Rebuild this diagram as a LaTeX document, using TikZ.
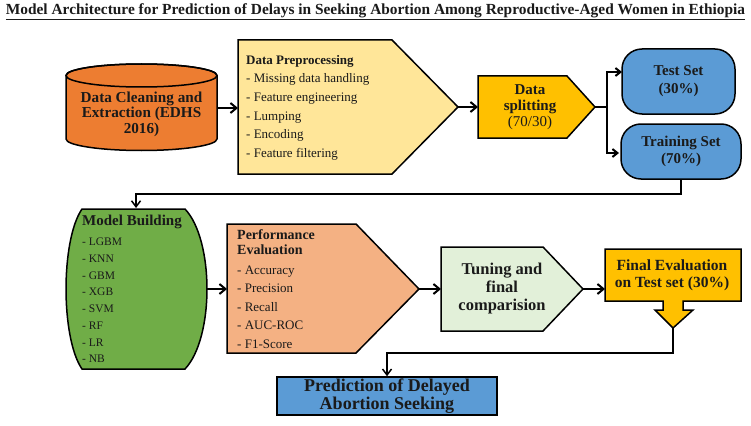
\documentclass[tikz,border=0pt]{standalone}
\usepackage{fontspec}
\setmainfont{Liberation Serif}
\usetikzlibrary{arrows.meta}
\definecolor{corange}{HTML}{ED7D31}
\definecolor{cyellow}{HTML}{FFE699}
\definecolor{cgold}{HTML}{FFC000}
\definecolor{cblue}{HTML}{5B9BD5}
\definecolor{cgreen}{HTML}{70AD47}
\definecolor{csalmon}{HTML}{F4B183}
\definecolor{clgreen}{HTML}{E2F0D9}
\definecolor{ctext}{HTML}{1A1A1A}
\begin{document}
\begin{tikzpicture}[x=1pt,y=-1pt,
  shp/.style={draw=black, line width=1.5pt, line join=miter},
  arr/.style={line width=2pt, -{Straight Barb[length=6pt,width=10pt]}},
  arrs/.style={line width=2pt, -{Straight Barb[length=5pt,width=8pt]}},
  arrthin/.style={line width=1.5pt, -{Straight Barb[length=6pt,width=9pt]}},
  txt/.style={text=ctext, inner sep=0pt},
  lst/.style={txt, anchor=west, align=left}]
\useasboundingbox[fill=white] (0,0) rectangle (751,425);

% title
\node[txt, font=\fontsize{15.4}{18}\selectfont\bfseries] (title) at (375.5,12)
  {\underline{Model Architecture for Prediction of Delays in Seeking Abortion Among Reproductive-Aged Women in Ethiopia}};

% cylinder
\path[shp, fill=corange] (66,75.5) -- (66,139)
  arc[start angle=180,end angle=0,x radius=75.5,y radius=11.5] -- (217,75.5)
  arc[start angle=0,end angle=-180,x radius=75.5,y radius=11.5] -- cycle;
\draw[shp] (141.5,75.5) ellipse[x radius=75.5,y radius=11.5];
\node[txt, align=center, font=\fontsize{15.2}{15.5}\selectfont\bfseries] (clean) at (141.5,114)
  {Data Cleaning and\\Extraction (EDHS\\2016)};
\coordinate (cylR) at (217,108);

% data preprocessing
\path[shp, fill=cyellow] (238,40) -- (392,40) -- (458,107) -- (392,174) -- (238,174) -- cycle;
\coordinate (ppL) at (238,108);
\coordinate (ppR) at (458,107);
\node[lst, font=\fontsize{13}{16}\selectfont\bfseries] (pph) at (246,61) {Data Preprocessing};
\node[lst, font=\fontsize{13}{18.75}\selectfont] (ppi) at (246,117)
  {- Missing data handling\\- Feature engineering\\- Lumping\\- Encoding\\- Feature filtering};

% data splitting
\path[shp, fill=cgold] (478,76) -- (567,76) -- (595,107) -- (567,138) -- (478,138) -- cycle;
\coordinate (dsL) at (478,107);
\coordinate (dsR) at (595,107);
\node[txt, align=center, font=\fontsize{15}{16}\selectfont\bfseries] (ds) at (530,107)
  {Data\\splitting\\{\mdseries (70/30)}};
\coordinate (j) at (607,107);

% test / training
\node[shp, fill=cblue, rounded corners=20pt, minimum width=113pt, minimum height=65pt,
  txt, align=center, font=\fontsize{15}{18}\selectfont\bfseries] (test) at (678.5,81.5)
  {Test Set\\(30\%)};
\node[shp, fill=cblue, rounded corners=20pt, minimum width=120pt, minimum height=55pt,
  txt, align=center, font=\fontsize{15}{17}\selectfont\bfseries] (train) at (681,151.5)
  {Training Set\\(70\%)};
\coordinate (testIn) at (622,72);
\coordinate (trainIn) at (619,153);

% model building
\path[shp, fill=cgreen] (82,209) -- (185,209)
  .. controls (214.3,240) and (214.3,338) .. (185,369) -- (82,369)
  .. controls (60.7,338) and (60.7,240) .. (82,209) -- cycle;
\coordinate (mbTop) at (136,208);
\coordinate (mbR) at (207,289);
\coordinate (bendL) at (136,194);
\node[lst, font=\fontsize{15}{16}\selectfont\bfseries] (mbh) at (82,222) {Model Building};
\node[lst, font=\fontsize{11.5}{16.7}\selectfont] (mbi) at (82,300.5)
  {- LGBM\\- KNN\\- GBM\\- XGB\\- SVM\\- RF\\- LR\\- NB};

% performance evaluation
\path[shp, fill=csalmon] (227,224) -- (356,224) -- (419,289) -- (356,353) -- (227,353) -- cycle;
\coordinate (peL) at (227,289);
\coordinate (peR) at (419,289);
\node[lst, font=\fontsize{14}{15}\selectfont\bfseries] (peh) at (237,242.5) {Performance\\Evaluation};
\node[lst, font=\fontsize{13}{18.5}\selectfont] (pei) at (237,307)
  {- Accuracy\\- Precision\\- Recall\\- AUC-ROC\\- F1-Score};

% tuning
\path[shp, fill=clgreen] (441,247) -- (543,247) -- (583,289) -- (543,331) -- (441,331) -- cycle;
\coordinate (tuL) at (441,289);
\coordinate (tuR) at (583,289);
\node[txt, align=center, font=\fontsize{16.5}{18}\selectfont\bfseries] (tu) at (502,289)
  {Tuning and\\final\\comparision};

% final evaluation callout
\path[shp, fill=cgold] (605,249) -- (741,249) -- (741,301) -- (683,301) -- (683,310) -- (693,310)
  -- (673,328) -- (655,310) -- (663,310) -- (663,301) -- (605,301) -- cycle;
\coordinate (feL) at (605,289);
\coordinate (feTip) at (673,328);
\coordinate (bendP) at (387,353);
\node[txt, align=center, font=\fontsize{15.5}{17}\selectfont\bfseries] (fe) at (672,275.5)
  {Final Evaluation\\on Test set (30\%)};

% prediction
\node[shp, fill=cblue, minimum width=220pt, minimum height=38pt, txt, align=center,
  font=\fontsize{18}{18}\selectfont\bfseries] (pred) at (387,396)
  {Prediction of Delayed\\Abortion Seeking};

% connectors
\draw[arr] (cylR) -- (ppL);
\draw[arr] (ppR) -- (dsL);
\draw[line width=2.5pt] (dsR) -- (j);
\draw[arrs] (j) |- (testIn);
\draw[arrs] (j) |- (trainIn);
\draw[arrthin] (train.south) |- (bendL) -- (mbTop);
\draw[arr] (mbR) -- (peL);
\draw[arr] (peR) -- (tuL);
\draw[arr] (tuR) -- (feL);
\draw[arrthin] (feTip) |- (bendP) -- (pred.north);
\end{tikzpicture}
\end{document}
